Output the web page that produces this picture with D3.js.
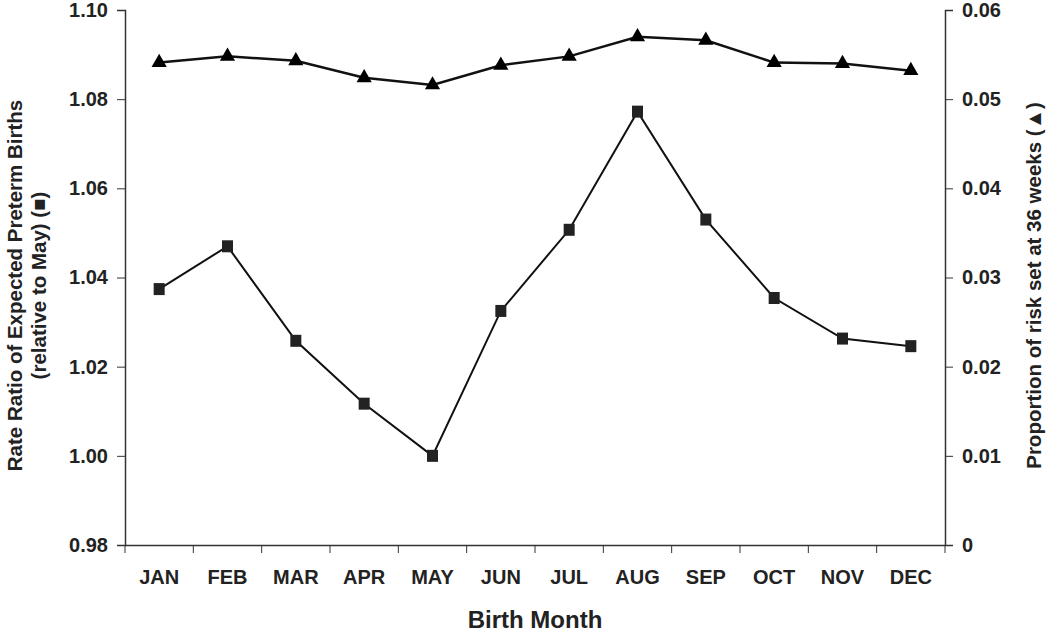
<!DOCTYPE html><html><head><meta charset="utf-8">
<script src="https://cdn.jsdelivr.net/npm/d3@7"></script>
<style>body{margin:0;background:#fff}text{font-family:"Liberation Sans",Arial,sans-serif;font-weight:bold;fill:#222}</style></head><body>
<svg id="c" width="1050" height="634"></svg>
<script>
const months=["JAN","FEB","MAR","APR","MAY","JUN","JUL","AUG","SEP","OCT","NOV","DEC"];
const rateRatio=[1.0374,1.0470,1.0258,1.0117,1.0000,1.0325,1.0507,1.0772,1.0530,1.0354,1.0263,1.0246];
const riskProp=[0.0541,0.0548,0.0543,0.0524,0.0516,0.0538,0.0548,0.0570,0.0566,0.0541,0.0540,0.0532];
const leftTicks=[0.98,1.00,1.02,1.04,1.06,1.08,1.10];
const rightTicks=[0,0.01,0.02,0.03,0.04,0.05,0.06];
const L=125,R=945,T=10,B=545;
const svg=d3.select("#c");
const x=d3.scaleBand().domain(months).range([L,R]);
const yl=d3.scaleLinear().domain([0.98,1.10]).range([B,T]);
const yr=d3.scaleLinear().domain([0,0.06]).range([B,T]);
const ax=svg.append("g").attr("transform",`translate(0,${B})`).call(d3.axisBottom(x).tickSize(0).tickPadding(25));
ax.selectAll("text").attr("font-size",20);
svg.append("g").selectAll("line").data(d3.range(13)).join("line")
 .attr("x1",i=>L+i*x.step()).attr("x2",i=>L+i*x.step()).attr("y1",B).attr("y2",B+8).attr("stroke","#333");
const al=svg.append("g").attr("transform",`translate(${L},0)`).call(d3.axisLeft(yl).tickValues(leftTicks).tickFormat(d3.format(".2f")).tickSize(8).tickPadding(9));
al.selectAll("text").attr("font-size",20);
const ar=svg.append("g").attr("transform",`translate(${R},0)`).call(d3.axisRight(yr).tickValues(rightTicks).tickFormat(d=>d===0?"0":d3.format(".2f")(d)).tickSize(8).tickPadding(9));
ar.selectAll("text").attr("font-size",20);
svg.selectAll(".domain").attr("stroke","#333").attr("stroke-width",1.5);
svg.selectAll(".tick line").attr("stroke","#333");
const cx=d=>x(d)+x.bandwidth()/2;
svg.append("path").datum(months).attr("fill","none").attr("stroke","#111").attr("stroke-width",2)
 .attr("d",d3.line().x(cx).y((d,i)=>yl(rateRatio[i])));
svg.append("path").datum(months).attr("fill","none").attr("stroke","#111").attr("stroke-width",2.5)
 .attr("d",d3.line().x(cx).y((d,i)=>yr(riskProp[i])));
svg.selectAll(".sq").data(months).join("rect").attr("x",d=>cx(d)-5.5).attr("y",(d,i)=>yl(rateRatio[i])-6).attr("width",11).attr("height",12).attr("fill","#222");
svg.selectAll(".tr").data(months).join("path").attr("transform",(d,i)=>`translate(${cx(d)},${yr(riskProp[i])})`)
 .attr("d",d3.symbol(d3.symbolTriangle,100)).attr("fill","#000");
svg.append("text").attr("x",(L+R)/2).attr("y",628).attr("text-anchor","middle").attr("font-size",24).text("Birth Month");
svg.append("text").attr("transform",`translate(22,${(T+B)/2+8}) rotate(-90)`).attr("text-anchor","middle").attr("font-size",20.5).text("Rate Ratio of Expected Preterm Births");
svg.append("text").attr("transform",`translate(46,${(T+B)/2+8}) rotate(-90)`).attr("text-anchor","middle").attr("font-size",20.5).text("(relative to May) (\u25A0)");
svg.append("text").attr("transform",`translate(1041,${(T+B)/2+8}) rotate(-90)`).attr("text-anchor","middle").attr("font-size",20.5).text("Proportion of risk set at 36 weeks (\u25B2)");
</script></body></html>
